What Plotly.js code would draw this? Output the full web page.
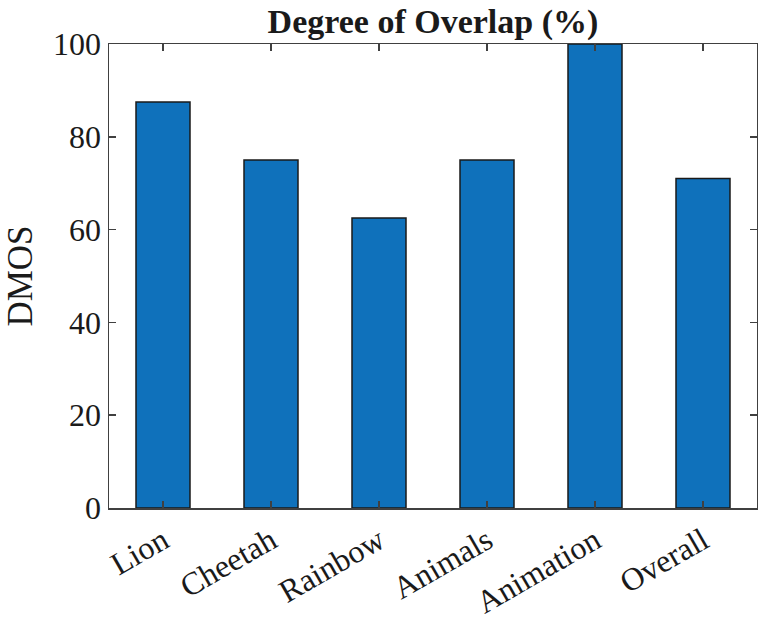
<!DOCTYPE html>
<html>
<head>
<meta charset="utf-8">
<script src="https://cdn.plot.ly/plotly-3.0.1.min.js"></script>
<style>html,body{margin:0;padding:0;background:#fff;}#chart{width:758px;height:621px;}</style>
</head>
<body>
<div id="chart"></div>
<script>
const categories = ["Lion", "Cheetah", "Rainbow", "Animals", "Animation", "Overall"];
const overlap = [87.5, 75, 62.5, 75, 100, 71];
const yTicks = [0, 20, 40, 60, 80, 100];

const font = "Liberation Serif, Times New Roman, serif";
const trace = {
  type: "bar",
  x: categories.map((c, i) => i + 1),
  y: overlap,
  width: 0.5,
  marker: {color: "#0F71BB", line: {color: "#1a1a1a", width: 1.5}},
  hoverinfo: "none"
};
const layout = {
  width: 758, height: 621,
  margin: {l: 109, r: 1, t: 44, b: 113, pad: 0},
  paper_bgcolor: "#fff", plot_bgcolor: "#fff",
  showlegend: false,
  title: {text: "<b>Degree of Overlap (%)</b>", font: {family: font, size: 34, color: "#1a1a1a"},
          x: 0.5, xref: "paper", y: 0.947, yref: "container", yanchor: "bottom", pad: {t: 0, b: 0}},
  xaxis: {
    range: [0.5, 6.5], tickmode: "array", tickvals: categories.map((c, i) => i + 1), ticktext: categories,
    tickangle: -30, ticks: "inside", ticklen: 7, tickcolor: "#404040", tickwidth: 1.5,
    showline: true, linecolor: "#404040", linewidth: 1.5, mirror: "ticks",
    showgrid: false, zeroline: false,
    tickfont: {family: font, size: 32, color: "#1a1a1a"}
  },
  yaxis: {
    range: [0, 100], tickmode: "array", tickvals: yTicks,
    ticks: "inside", ticklen: 7, tickcolor: "#404040", tickwidth: 1.5,
    showline: true, linecolor: "#404040", linewidth: 1.5, mirror: "ticks",
    showgrid: false, zeroline: false,
    tickfont: {family: font, size: 32, color: "#1a1a1a"},
    title: {text: "DMOS", font: {family: font, size: 35, color: "#1a1a1a"}, standoff: 10}
  }
};
Plotly.newPlot("chart", [trace], layout, {staticPlot: true, displayModeBar: false});
</script>
</body>
</html>
